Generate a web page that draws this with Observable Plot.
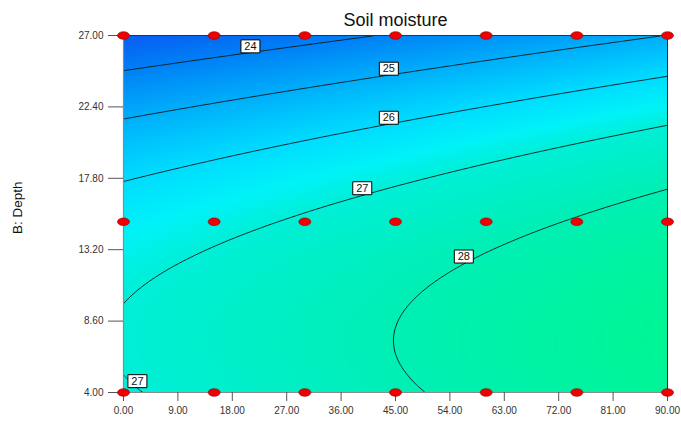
<!DOCTYPE html>
<html>
<head>
<meta charset="utf-8">
<script src="https://cdn.jsdelivr.net/npm/d3@7"></script>
<script src="https://cdn.jsdelivr.net/npm/@observablehq/plot@0.6"></script>
<style>
  html, body { margin: 0; padding: 0; background: #fff; }
  #chart { width: 681px; height: 423px; }
  svg { font-family: "Liberation Sans", Arial, sans-serif; }
</style>
</head>
<body>
<div id="chart"></div>
<script>
// ---- data ----
const title = "Soil moisture";
const yLabel = "B: Depth";
const xTicks = [0, 9, 18, 27, 36, 45, 54, 63, 72, 81, 90];
const yTicks = [4, 8.6, 13.2, 17.8, 22.4, 27];
// design points (A: x factor, B: Depth)
const designA = [0, 15, 30, 45, 60, 75, 90];
const designB = [4, 15, 27];
// fitted quadratic response-surface model: Intercept, A, B, AB, A^2, B^2
const modelTerms = ["Intercept", "A", "B", "AB", "A2", "B2"];
const modelCoefs = [26.49, 0.0212, 0.1516, -0.00004, 0.0000066, -0.0102];
const contourLevels = [24, 25, 26, 27, 28];
// contour labels
const labelA = [21, 43.9, 43.9, 39.5, 56.3, 2.3];
const labelB = [26.3, 24.86, 21.7, 17.16, 12.76, 4.73];
const labelText = ["24", "25", "26", "27", "28", "27"];

// ---- build ----
const moisture = (a, b) => {
  const t = [1, a, b, a * b, a * a, b * b];
  return d3.sum(t, (v, i) => v * modelCoefs[i]);
};
const points = designB.flatMap(b => designA.map(a => ({a, b})));
const labels = labelText.map((t, i) => ({a: labelA[i], b: labelB[i], t}));

const ellipse = {
  draw(ctx) {
    const rx = 6, ry = 3.8, k = 0.5523;
    ctx.moveTo(rx, 0);
    ctx.bezierCurveTo(rx, ry * k, rx * k, ry, 0, ry);
    ctx.bezierCurveTo(-rx * k, ry, -rx, ry * k, -rx, 0);
    ctx.bezierCurveTo(-rx, -ry * k, -rx * k, -ry, 0, -ry);
    ctx.bezierCurveTo(rx * k, -ry, rx, -ry * k, rx, 0);
    ctx.closePath();
  }
};
const box = { draw(ctx) { ctx.rect(-9.5, -6.5, 19, 13); } };

const chart = Plot.plot({
  width: 681,
  height: 423,
  marginLeft: 123,
  marginRight: 14,
  marginTop: 35,
  marginBottom: 31,
  style: {fontFamily: "'Liberation Sans', Arial, sans-serif", background: "#fff"},
  x: {domain: [0, 90]},
  y: {domain: [4, 27]},
  color: {
    type: "linear",
    domain: [23, 24, 25, 26, 26.6, 27, 28, 29],
    range: ["#0a56f0", "#0080f6", "#00aefa", "#00dcff", "#00f2f8", "#00efd8", "#00efb4", "#00f594"],
    interpolate: "rgb"
  },
  marks: [
    Plot.raster({fill: (a, b) => moisture(a, b), x1: 0, x2: 90, y1: 4, y2: 27, pixelSize: 1}),
    Plot.contour({value: (a, b) => moisture(a, b), x1: 0, x2: 90, y1: 4, y2: 27,
      thresholds: contourLevels, stroke: "#0b1a1a", strokeWidth: 0.9, fill: "none", pixelSize: 1}),
    Plot.ruleX([0], {stroke: "#8a8a8a", strokeWidth: 1.2}),
    Plot.ruleY([4], {stroke: "#8a8a8a", strokeWidth: 1.2}),
    Plot.ruleX([90], {stroke: "#222", strokeWidth: 1}),
    Plot.ruleY([27], {stroke: "#333", strokeWidth: 1}),
    Plot.axisX({ticks: xTicks, tickFormat: d => d.toFixed(2), tickSize: 9, tickPadding: 5,
      fontSize: 10, stroke: "#555", fill: "#333", label: null}),
    Plot.axisY({ticks: yTicks, tickFormat: d => d.toFixed(2), tickSize: 15, tickPadding: 5,
      fontSize: 10, stroke: "#555", fill: "#333", label: null}),
    Plot.dot(labels, {x: "a", y: "b", symbol: box, fill: "#fff", stroke: "#000", strokeWidth: 1}),
    Plot.text(labels, {x: "a", y: "b", text: "t", fontSize: 11, fill: "#111"}),
    Plot.dot(points, {x: "a", y: "b", symbol: ellipse, fill: "#f00000", stroke: "#8a0000", strokeWidth: 0.6}),
    Plot.text([title], {frameAnchor: "top", dy: -15, fontSize: 18, fill: "#111", lineAnchor: "middle"}),
    Plot.text([yLabel], {x: -17.5, y: 15.9, rotate: -90, fontSize: 13.5, fill: "#111",
      textAnchor: "middle", lineAnchor: "middle"})
  ]
});
document.getElementById("chart").appendChild(chart);
</script>
</body>
</html>
